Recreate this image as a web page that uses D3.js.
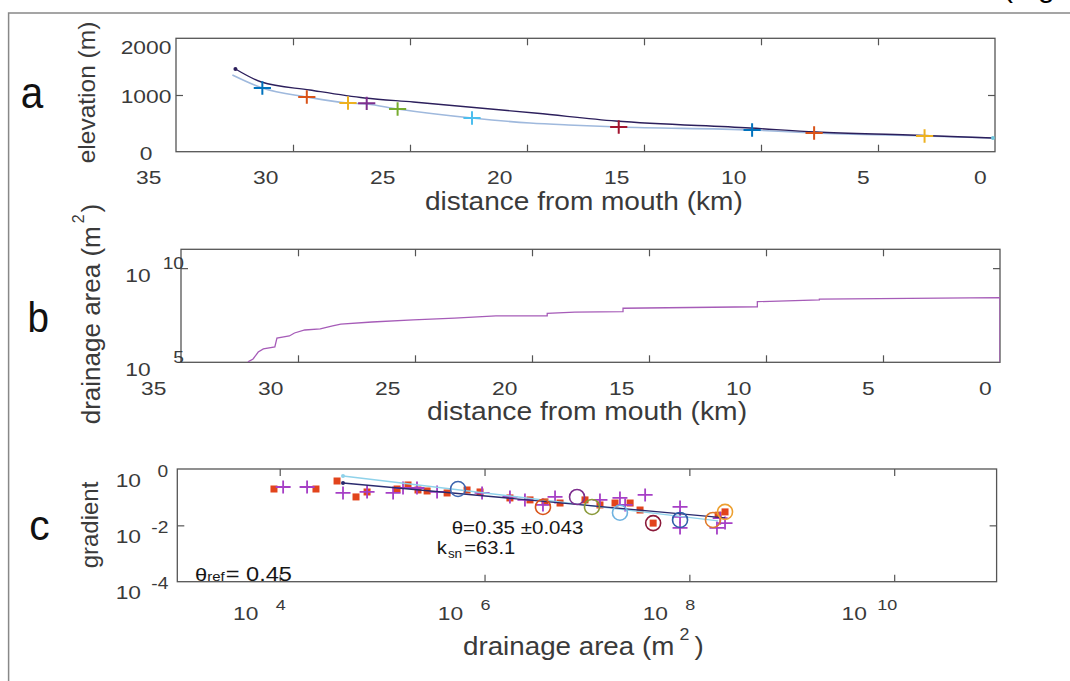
<!DOCTYPE html>
<html>
<head>
<meta charset="utf-8">
<script src="https://cdn.jsdelivr.net/npm/d3@7"></script>
<style>
  html, body { margin: 0; padding: 0; background: #fff; overflow: hidden; }
  svg { display: block; font-family: "Liberation Sans", Arial, sans-serif; }
</style>
</head>
<body>
<svg id="fig" width="1070" height="681"></svg>
<script>
// ---- data ----
// panel a: long profile (km from mouth, elevation m)
var profDist = [32.46, 31.35, 29.28, 26.94, 24.86, 19.56, 16.21, 10.47, 7.64, 3.67, 0.09]
var profElev = [1459, 1229, 1088, 947, 877, 677, 541, 418, 347, 295, 242]
var lowDist = [32.59, 31.31, 29.41, 27.65, 26.85, 25.53, 22.35, 19.87, 18.24, 16.08, 10.38, 7.73, 3.01, 0.09]
var lowElev = [1353, 1123, 965, 859, 841, 753, 594, 506, 471, 436, 383, 330, 277, 242]
var knickDist = [31.31, 29.41, 27.65, 26.85, 25.53, 22.35, 16.08, 10.38, 7.73, 3.01]
var knickElev = [1123, 965, 859, 853, 753, 594, 436, 383, 330, 277]
var knickColor = ['#0072BD', '#D95319', '#EDB120', '#7E2F8E', '#77AC30', '#4DBEEE', '#A2142F', '#0072BD', '#D95319', '#EDB120']

// panel b: drainage area along the channel
var areaDist = [32.14, 31.92, 31.7, 31.48, 30.99, 30.9, 30.37, 30.15, 29.71, 29.05, 28.52, 28.17, 26.84, 25.08, 23.31, 21.54, 20.09, 19.35, 19.35, 18.17, 16.11, 16.11, 10.37, 10.37, 7.72, 7.72, 0, 0]
var areaVal = [1.05e5, 1.5e5, 3.5e5, 5.1e5, 6.5e5, 1.95e6, 2.5e6, 3.6e6, 5.2e6, 5.9e6, 8.5e6, 1.07e7, 1.38e7, 1.78e7, 2.24e7, 2.9e7, 2.9e7, 2.9e7, 4.0e7, 4.6e7, 4.9e7, 7.4e7, 8.9e7, 1.66e8, 2.04e8, 2.29e8, 2.69e8, 1e5]

// panel c: slope-area
var sqArea = [8.79e3, 2.26e4, 3.63e4, 5.56e4, 7.13e4, 1.40e5, 1.79e5, 2.24e5, 2.75e5, 4.31e5, 6.75e5, 9.04e5, 1.77e6, 2.78e6, 3.89e6, 5.46e6, 9.57e6, 1.34e7, 1.88e7, 2.64e7, 3.30e7, 4.43e7, 1.91e8, 2.23e8]
var sqGrad = [0.195, 0.195, 0.375, 0.102, 0.153, 0.195, 0.271, 0.180, 0.166, 0.141, 0.180, 0.153, 0.094, 0.080, 0.068, 0.062, 0.080, 0.053, 0.062, 0.062, 0.035, 0.012, 0.023, 0.030]
var plArea = [1.08e4, 1.85e4, 4.15e4, 7.13e4, 1.28e5, 1.60e5, 2.19e5, 3.44e5, 9.46e5, 1.77e6, 2.48e6, 3.72e6, 4.88e6, 1.34e7, 2.10e7, 2.36e7, 3.70e7, 8.11e7, 8.11e7, 8.11e7, 2.00e8, 2.23e8, 1.86e8]
var plGrad = [0.230, 0.230, 0.141, 0.153, 0.141, 0.212, 0.212, 0.153, 0.141, 0.102, 0.080, 0.053, 0.102, 0.080, 0.094, 0.053, 0.120, 0.045, 0.0081, 0.020, 0.018, 0.012, 0.0081]
var ciArea = [5.51e5, 3.72e6, 8.0e6, 1.12e7, 2.10e7, 4.43e7, 8.11e7, 1.70e8, 2.23e8]
var ciGrad = [0.195, 0.045, 0.102, 0.045, 0.028, 0.012, 0.0155, 0.0155, 0.030]
var ciColor = ['#3E66B0', '#D95319', '#7E2F8E', '#8A9A3A', '#6FB3E0', '#8B1A3A', '#2F5FA8', '#E07A2A', '#EDA030']
var fitArea = [4.15e4, 2.23e8]
var fitGrad = [0.319, 0.0183]
var fit2Area = [4.15e4, 1.91e8]
var fit2Grad = [0.565, 0.0143]

var distTicks = [35, 30, 25, 20, 15, 10, 5, 0]
var elevTicks = [0, 1000, 2000]
var areaTicksB = [1e5, 1e10]
var areaTicksC = [1e4, 1e6, 1e8, 1e10]
var gradTicks = [1e-4, 1e-2, 1]

// ---- layout ----
var A = {l: 176, r: 995, t: 38.3, b: 151.7}
var B = {l: 181, r: 1000, t: 249.3, b: 362.3}
var C = {l: 177.3, r: 996.6, t: 469, b: 581.7}
var SX = 1.2
var LBL = '#3a3a3a'

var svg = d3.select('#fig')

var xa = d3.scaleLinear().domain([35, 0]).range([A.l, A.r])
var ya = d3.scaleLinear().domain([0, 2000]).range([A.b, A.t])
var xb = d3.scaleLinear().domain([35, 0]).range([B.l, B.r])
var yb = d3.scaleLog().domain([1e5, 1e11]).range([B.b, B.t])
var xc = d3.scaleLog().domain([1e3, 1e11]).range([C.l, C.r])
var yc = d3.scaleLog().domain([1e-4, 1]).range([C.b, C.t])

// outer frame of the figure page
svg.append('rect').attr('x', 8.6).attr('y', 13).attr('width', 1100).attr('height', 700)
  .attr('fill', 'none').attr('stroke', '#888').attr('stroke-width', 1.5)
svg.append('text').attr('x', 1003).attr('y', -3).style('font-size', '30px').attr('fill', '#000').text('(Fig')

function htext (g, x, y, str, size, sx, anchor) {
  return g.append('text')
    .attr('transform', 'translate(' + x + ',' + y + ') scale(' + sx + ',1)')
    .attr('text-anchor', anchor || 'start')
    .style('font-size', size + 'px')
    .text(str)
}

function inner (ticks, sc) {
  var d = sc.domain()
  var lo = Math.min(d[0], d[1])
  var hi = Math.max(d[0], d[1])
  return ticks.filter(function (v) { return v > lo && v < hi })
}

function frame (box, xs, ys, xt, yt, id) {
  var g = svg.append('g')
  g.append('g').attr('transform', 'translate(0,' + box.b + ')')
    .call(d3.axisBottom(xs).tickValues(inner(xt, xs)).tickSize(-7).tickFormat(''))
  g.append('g').attr('transform', 'translate(0,' + box.t + ')')
    .call(d3.axisTop(xs).tickValues(inner(xt, xs)).tickSize(-7).tickFormat(''))
  g.append('g').attr('transform', 'translate(' + box.l + ',0)')
    .call(d3.axisLeft(ys).tickValues(inner(yt, ys)).tickSize(-7).tickFormat(''))
  g.append('g').attr('transform', 'translate(' + box.r + ',0)')
    .call(d3.axisRight(ys).tickValues(inner(yt, ys)).tickSize(-7).tickFormat(''))
  g.selectAll('.domain').remove()
  g.selectAll('.tick line').attr('stroke', '#555').attr('stroke-width', 1.2)
  g.append('rect').attr('x', box.l).attr('y', box.t)
    .attr('width', box.r - box.l).attr('height', box.b - box.t)
    .attr('fill', 'none').attr('stroke', '#555').attr('stroke-width', 1.3)
  svg.append('clipPath').attr('id', id).append('rect')
    .attr('x', box.l).attr('y', box.t).attr('width', box.r - box.l).attr('height', box.b - box.t)
  return svg.append('g').attr('clip-path', 'url(#' + id + ')')
}

// distance tick labels sit left of their tick, as in the original
function distLabels (box, xs) {
  var g = svg.append('g').attr('fill', LBL)
  distTicks.forEach(function (v) {
    var t = htext(g, 0, 0, String(v), 19, SX, 'middle')
    var w = t.node().getComputedTextLength() * SX
    t.attr('transform', 'translate(' + (xs(v) - w - 2) + ',' + (box.b + 32.3) + ') scale(' + SX + ',1)')
  })
}

function plus (g, x, y, hw, hh, color, sw) {
  g.append('path')
    .attr('d', 'M' + (x - hw) + ',' + y + 'H' + (x + hw) + 'M' + x + ',' + (y - hh) + 'V' + (y + hh))
    .attr('stroke', color).attr('stroke-width', sw).attr('fill', 'none')
}

// ================= panel a =================
var pa = frame(A, xa, ya, distTicks, elevTicks, 'clipA')
var lineA = d3.line().curve(d3.curveMonotoneX)
pa.append('path')
  .attr('d', lineA(lowDist.map(function (d, i) { return [xa(d), ya(lowElev[i])] })))
  .attr('fill', 'none').attr('stroke', '#9fb9dd').attr('stroke-width', 1.6)
pa.append('path')
  .attr('d', lineA(profDist.map(function (d, i) { return [xa(d), ya(profElev[i])] })))
  .attr('fill', 'none').attr('stroke', '#2c1f5c').attr('stroke-width', 1.4)
pa.append('circle').attr('cx', xa(profDist[0])).attr('cy', ya(profElev[0])).attr('r', 2).attr('fill', '#2c1f5c')
pa.append('circle').attr('cx', xa(lowDist[lowDist.length - 1])).attr('cy', ya(lowElev[lowElev.length - 1])).attr('r', 2).attr('fill', '#6fc6dc')
knickDist.forEach(function (d, i) {
  plus(pa, xa(d), ya(knickElev[i]), 8.6, 6.7, knickColor[i], 2)
})

var ga = svg.append('g').attr('fill', LBL)
elevTicks.forEach(function (v) {
  var cy = Math.max(ya(v), A.t + 8) + 1
  htext(ga, A.l - 30, cy + 6.8, String(v), 19, SX, 'middle')
})
distLabels(A, xa)
htext(ga, 425, 210, 'distance from mouth (km)', 25, 1.122, 'start')
ga.append('text').attr('transform', 'translate(94.7,92.5) rotate(-90)')
  .attr('text-anchor', 'middle').style('font-size', '24.5px').text('elevation (m)')
htext(svg, 20.7, 108.3, 'a', 44, 0.92).attr('fill', '#111')

// ================= panel b =================
var pb = frame(B, xb, yb, distTicks, areaTicksB, 'clipB')
pb.append('path')
  .attr('d', d3.line()(areaDist.map(function (d, i) { return [xb(d), yb(areaVal[i])] })))
  .attr('fill', 'none').attr('stroke', '#a65cb8').attr('stroke-width', 1.3)

var gb = svg.append('g').attr('fill', LBL)
areaTicksB.forEach(function (v) {
  htext(gb, B.l - 43, yb(v) + 14, '10', 19, SX, 'middle')
  htext(gb, B.l + 3, yb(v) + 1, String(Math.round(Math.log10(v))), 16, SX, 'end')
})
distLabels(B, xb)
htext(gb, 427, 420, 'distance from mouth (km)', 25, 1.13, 'start')
var tb = gb.append('text').attr('transform', 'translate(99.5,314) rotate(-90)')
  .attr('text-anchor', 'middle').style('font-size', '26px')
tb.append('tspan').text('drainage area (m')
tb.append('tspan').attr('dx', 3).attr('dy', -16).style('font-size', '16px').text('2')
tb.append('tspan').attr('dx', 2).attr('dy', 16).text(')')
htext(svg, 27.5, 331.7, 'b', 42, 0.92).attr('fill', '#111')

// ================= panel c =================
var pc = frame(C, xc, yc, areaTicksC, gradTicks, 'clipC')
sqArea.forEach(function (a, i) {
  pc.append('rect').attr('x', xc(a) - 3.5).attr('y', yc(sqGrad[i]) - 3.5)
    .attr('width', 7).attr('height', 7).attr('fill', '#e2441c')
})
plArea.forEach(function (a, i) {
  plus(pc, xc(a), yc(plGrad[i]), 7.5, 6.5, '#a63fc6', 1.8)
})
pc.append('path').attr('d', d3.line()(fit2Area.map(function (a, i) { return [xc(a), yc(fit2Grad[i])] })))
  .attr('stroke', '#8fd2ea').attr('stroke-width', 1.3).attr('fill', 'none')
pc.append('path').attr('d', d3.line()(fitArea.map(function (a, i) { return [xc(a), yc(fitGrad[i])] })))
  .attr('stroke', '#2a2a6e').attr('stroke-width', 1.3).attr('fill', 'none')
pc.append('circle').attr('cx', xc(fit2Area[0])).attr('cy', yc(fit2Grad[0])).attr('r', 2).attr('fill', '#8fd2ea')
pc.append('circle').attr('cx', xc(fitArea[0])).attr('cy', yc(fitGrad[0])).attr('r', 2).attr('fill', '#2a2a6e')
ciArea.forEach(function (a, i) {
  pc.append('circle').attr('cx', xc(a)).attr('cy', yc(ciGrad[i])).attr('r', 7.5)
    .attr('fill', 'none').attr('stroke', ciColor[i]).attr('stroke-width', 1.6)
})

var gc = svg.append('g').attr('fill', LBL)
gradTicks.forEach(function (v) {
  htext(gc, C.l - 49, yc(v) + 17.5, '10', 19, SX, 'middle')
  htext(gc, C.l - 9, yc(v) + 7.5, String(Math.round(Math.log10(v))), 16, SX, 'end')
})
areaTicksC.forEach(function (v) {
  var e = String(Math.round(Math.log10(v)))
  var n = e.length - 1
  htext(gc, xc(v) - 34 - n * 6, C.b + 38.3, '10', 19, SX, 'middle')
  htext(gc, xc(v) + 1 - n * 8, C.b + 28.3, e, 15, SX, 'middle')
})
var tcx = htext(gc, 463, 655, '', 25, 1.11, 'start')
tcx.append('tspan').text('drainage area (m')
tcx.append('tspan').attr('dx', 4.7).attr('dy', -15).style('font-size', '16px').text('2')
tcx.append('tspan').attr('dx', 4.7).attr('dy', 15).text(')')
gc.append('text').attr('transform', 'translate(98.3,525) rotate(-90)')
  .attr('text-anchor', 'middle').style('font-size', '24px').text('gradient')
htext(svg, 29.3, 540, 'c', 43, 0.95).attr('fill', '#111')

// annotations
var gn = svg.append('g').attr('fill', '#161616')
htext(gn, 451.7, 533.5, '\u03b8=0.35 \u00b10.043', 18, 1.14, 'start')
var tk = htext(gn, 436.7, 554, '', 18, 1.12, 'start')
tk.append('tspan').text('k')
tk.append('tspan').attr('dx', 1).attr('dy', 4).style('font-size', '12px').text('sn')
tk.append('tspan').attr('dx', 2).attr('dy', -4).text('=63.1')
var tr = htext(gn, 195, 581, '', 19, 1.15, 'start')
tr.append('tspan').text('\u03b8')
tr.append('tspan').style('font-size', '13px').text('ref')
tr.append('tspan').attr('dx', 1).style('font-size', '20.5px').text('= 0.45')
</script>
</body>
</html>
